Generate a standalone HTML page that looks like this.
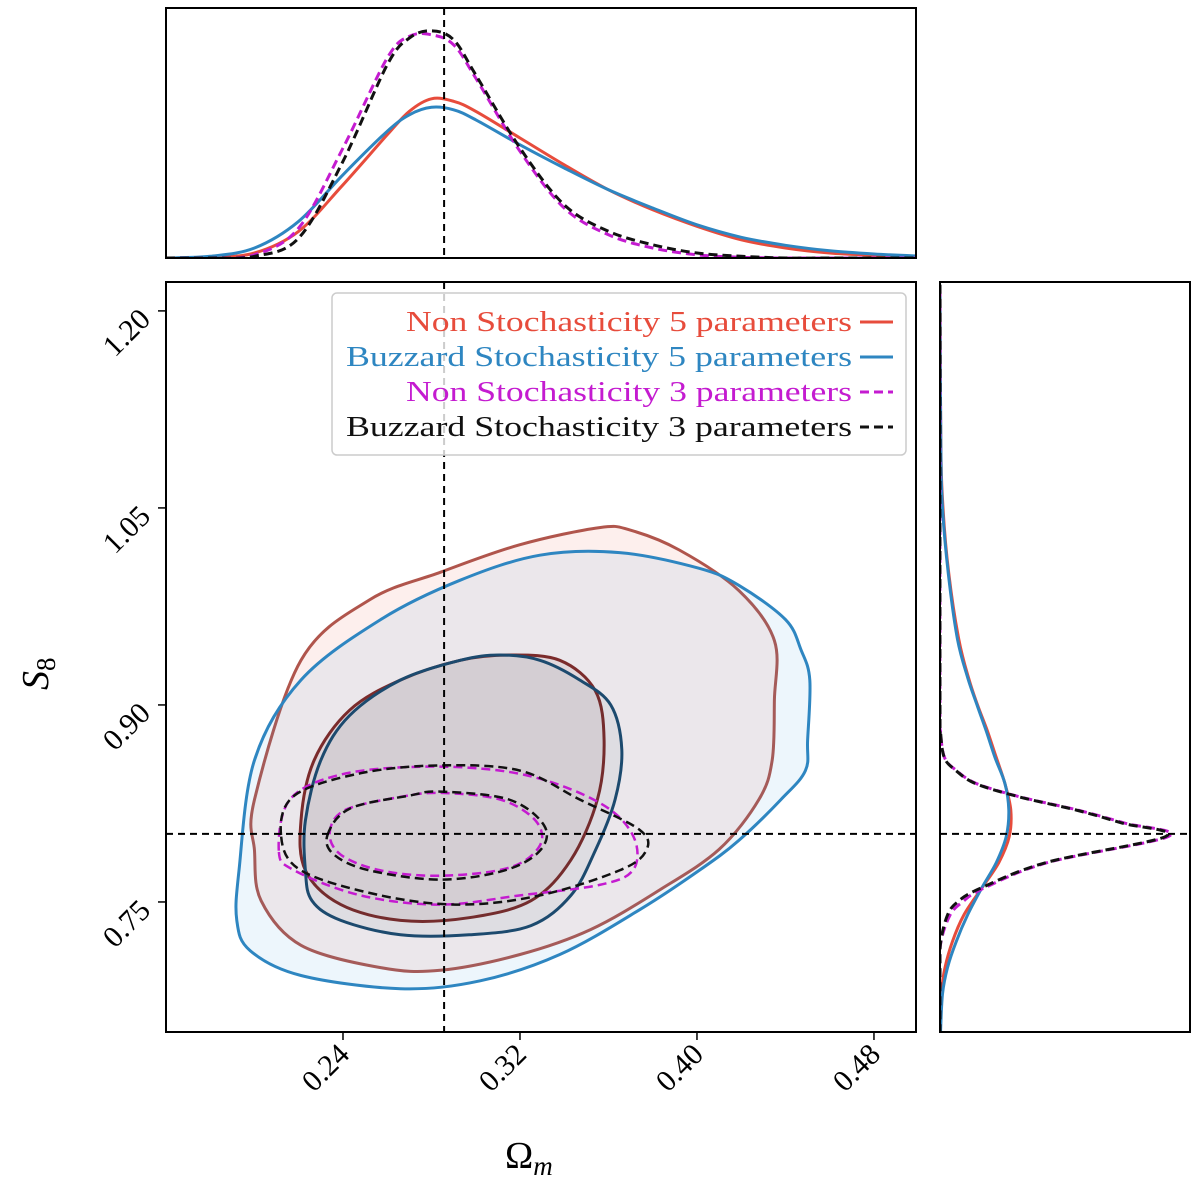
<!DOCTYPE html>
<html><head><meta charset="utf-8">
<style>
html,body{margin:0;padding:0;background:#fff;}
svg{display:block;font-family:"Liberation Serif",serif;}
</style></head>
<body>
<svg id="chart" width="1200" height="1181" viewBox="0 0 1200 1181"></svg>
<script>
// ---------- DATA ----------
const xTicks=[0.24,0.32,0.40,0.48];
const yTicks=[1.20,1.05,0.90,0.75];
const truthOm=0.2857, truthS8=0.8018;
const redOuter=[[0.200,0.828],[0.221,0.934],[0.252,0.980],[0.284,1.001],[0.320,1.022],[0.356,1.035],[0.370,1.033],[0.392,1.018],[0.419,0.987],[0.435,0.949],[0.435,0.904],[0.434,0.858],[0.428,0.828],[0.410,0.790],[0.383,0.759],[0.352,0.729],[0.320,0.710],[0.284,0.698],[0.257,0.700],[0.221,0.717],[0.203,0.751],[0.200,0.789]];
const blueOuter=[[0.193,0.774],[0.192,0.736],[0.198,0.713],[0.221,0.694],[0.266,0.684],[0.302,0.690],[0.338,0.710],[0.374,0.744],[0.401,0.774],[0.419,0.797],[0.438,0.828],[0.449,0.850],[0.450,0.873],[0.451,0.919],[0.447,0.942],[0.440,0.965],[0.419,0.991],[0.401,1.004],[0.365,1.016],[0.329,1.014],[0.293,0.995],[0.257,0.965],[0.221,0.919],[0.200,0.858]];
const redInner=[[0.223,0.774],[0.221,0.812],[0.227,0.858],[0.243,0.896],[0.266,0.919],[0.293,0.934],[0.315,0.938],[0.338,0.934],[0.354,0.911],[0.358,0.873],[0.355,0.828],[0.343,0.782],[0.325,0.751],[0.297,0.738],[0.266,0.736],[0.239,0.748]];
const blueInner=[[0.223,0.774],[0.223,0.812],[0.230,0.858],[0.243,0.892],[0.266,0.919],[0.293,0.934],[0.311,0.938],[0.329,0.934],[0.347,0.919],[0.361,0.900],[0.366,0.866],[0.363,0.828],[0.354,0.789],[0.343,0.755],[0.325,0.732],[0.297,0.725],[0.266,0.725],[0.239,0.736],[0.226,0.751]];
const magOuter=[[0.211,0.789],[0.216,0.828],[0.239,0.847],[0.275,0.853],[0.311,0.850],[0.338,0.839],[0.361,0.820],[0.372,0.797],[0.371,0.774],[0.356,0.763],[0.320,0.755],[0.284,0.748],[0.248,0.755],[0.218,0.774]];
const blkOuter=[[0.212,0.801],[0.218,0.831],[0.248,0.848],[0.284,0.854],[0.320,0.850],[0.347,0.828],[0.374,0.805],[0.377,0.789],[0.365,0.774],[0.329,0.755],[0.293,0.748],[0.257,0.755],[0.221,0.774]];
const magInner=[[0.234,0.803],[0.241,0.820],[0.266,0.830],[0.284,0.833],[0.311,0.828],[0.327,0.812],[0.329,0.793],[0.315,0.776],[0.284,0.770],[0.257,0.774],[0.239,0.786]];
const blkInner=[[0.233,0.801],[0.243,0.821],[0.270,0.831],[0.284,0.834],[0.315,0.828],[0.331,0.808],[0.329,0.789],[0.313,0.774],[0.284,0.767],[0.252,0.774],[0.236,0.786]];
// top marginal (Omega_m)
const omGrid=[0.16,0.18,0.20,0.22,0.24,0.26,0.27,0.28,0.29,0.30,0.32,0.34,0.36,0.38,0.40,0.42,0.44,0.46,0.48,0.50];
const omRed=[0,0.003,0.02,0.107,0.293,0.493,0.587,0.637,0.627,0.587,0.48,0.373,0.273,0.193,0.127,0.073,0.04,0.02,0.011,0.005];
const omBlue=[0,0.007,0.04,0.147,0.333,0.507,0.573,0.603,0.593,0.553,0.453,0.36,0.273,0.2,0.133,0.083,0.051,0.029,0.016,0.008];
const omBlk=[0,0,0.007,0.08,0.387,0.773,0.88,0.909,0.873,0.733,0.44,0.213,0.107,0.053,0.02,0.007,0,0,0,0];
const omMag=[0,0,0.013,0.12,0.44,0.8,0.887,0.893,0.853,0.72,0.427,0.2,0.093,0.04,0.013,0.003,0,0,0,0];
// right marginal (S8)
const s8Grid=[0.65,0.68,0.70,0.72,0.74,0.76,0.78,0.80,0.82,0.84,0.86,0.88,0.90,0.92,0.95,1.00,1.05,1.10,1.22];
const s8Red=[0,0.005,0.02,0.05,0.095,0.165,0.235,0.277,0.283,0.26,0.225,0.19,0.15,0.115,0.075,0.035,0.012,0.003,0];
const s8Blue=[0.002,0.01,0.03,0.065,0.11,0.165,0.225,0.265,0.275,0.26,0.22,0.185,0.148,0.112,0.07,0.033,0.01,0.003,0];
const s8Grid2=[0.65,0.70,0.72,0.74,0.75,0.76,0.78,0.80,0.81,0.82,0.83,0.84,0.85,0.86,0.88,0.90,1.22];
const s8Blk=[0,0,0.003,0.03,0.07,0.157,0.424,0.904,0.73,0.544,0.317,0.144,0.064,0.017,0.002,0,0];
const s8Mag=[0,0,0.004,0.04,0.09,0.17,0.43,0.915,0.74,0.55,0.32,0.148,0.066,0.018,0.002,0,0];

// ---------- SCALES ----------
const M={x0:166,x1:916,y0:282,y1:1032};
const T={y0:8,y1:258}, R={x0:940,x1:1190};
const om0=0.16, om1=0.499, s0=0.651, s1=1.222;
const X=v=>M.x0+(v-om0)/(om1-om0)*(M.x1-M.x0);
const Y=v=>M.y1-(v-s0)/(s1-s0)*(M.y1-M.y0);
const TY=d=>T.y1-d*250;
const RX=d=>R.x0+d*250;
const NS='http://www.w3.org/2000/svg';
const svg=document.getElementById('chart');
function mk(tag,attrs,parent){const e=document.createElementNS(NS,tag);for(const k in attrs)e.setAttribute(k,attrs[k]);(parent||svg).appendChild(e);return e;}
function smooth(pts,closed){
  const n=pts.length;let d='M'+pts[0][0].toFixed(1)+','+pts[0][1].toFixed(1);
  const get=i=>closed?pts[(i+n)%n]:pts[Math.max(0,Math.min(n-1,i))];
  const m=closed?n:n-1;
  for(let i=0;i<m;i++){const p0=get(i-1),p1=get(i),p2=get(i+1),p3=get(i+2);
    const c1=[p1[0]+(p2[0]-p0[0])/6,p1[1]+(p2[1]-p0[1])/6],c2=[p2[0]-(p3[0]-p1[0])/6,p2[1]-(p3[1]-p1[1])/6];
    d+=`C${c1[0].toFixed(1)},${c1[1].toFixed(1)} ${c2[0].toFixed(1)},${c2[1].toFixed(1)} ${p2[0].toFixed(1)},${p2[1].toFixed(1)}`;}
  return d+(closed?'Z':'');}
const defs=mk('defs',{});
const clip=mk('clipPath',{id:'cm'},defs);mk('rect',{x:M.x0,y:M.y0,width:750,height:750},clip);

// ---------- MAIN PANEL ----------
const g=mk('g',{'clip-path':'url(#cm)'});


function contour(arr,fill,stroke,w,dash,name){
  const p=mk('path',{d:smooth(arr.map(a=>[X(a[0]),Y(a[1])]),true),fill:fill,stroke:stroke,'stroke-width':w},g);
  if(dash)p.setAttribute('stroke-dasharray',dash);
  
  }
contour(redOuter,'rgba(231,76,60,0.09)','#b0554c',3,null,'red-95-contour');
contour(blueOuter,'rgba(52,152,219,0.09)','#2e86c1',3,null,'blue-95-contour');
contour(redInner,'rgba(110,40,40,0.08)','#7b2b2b',3,null,'red-68-contour');
contour(blueInner,'rgba(20,60,90,0.06)','#1c4a6e',3,null,'blue-68-contour');
contour(magOuter,'none','#c41bd0',2.5,'9,5','magenta-95-contour');
contour(blkOuter,'none','#111',2.5,'9,5','black-95-contour');
contour(magInner,'none','#c41bd0',2.5,'9,5','magenta-68-contour');
contour(blkInner,'none','#111',2.5,'9,5','black-68-contour');
let l=mk('line',{x1:X(truthOm),x2:X(truthOm),y1:M.y0,y2:M.y1,stroke:'#000','stroke-width':2,'stroke-dasharray':'7,5'});

l=mk('line',{x1:M.x0,x2:M.x1,y1:Y(truthS8),y2:Y(truthS8),stroke:'#000','stroke-width':2,'stroke-dasharray':'7,5'});

let fr=mk('rect',{x:M.x0,y:M.y0,width:750,height:750,fill:'none',stroke:'#000','stroke-width':2});


xTicks.forEach(v=>{const x=X(v);mk('line',{x1:x,x2:x,y1:M.y1,y2:M.y1+8,stroke:'#000','stroke-width':1.5});
  const t=mk('text',{x:x+8,y:M.y1+24,'font-size':30,'text-anchor':'end',transform:`rotate(-45 ${x+8} ${M.y1+24})`});t.textContent=v.toFixed(2);
  });
yTicks.forEach(v=>{const y=Y(v);mk('line',{x1:M.x0-8,x2:M.x0,y1:y,y2:y,stroke:'#000','stroke-width':1.5});
  const t=mk('text',{x:M.x0-14,y:y+10,'font-size':30,'text-anchor':'end',transform:`rotate(-45 ${M.x0-14} ${y+10})`});t.textContent=v.toFixed(2);
  });
let t=mk('text',{x:505,y:1168,'font-size':38});t.innerHTML='Ω<tspan font-size="27" dy="7" font-style="italic">m</tspan>';

t=mk('text',{x:48,y:690,'font-size':38,'font-style':'italic',transform:'rotate(-90 48 690)'});t.innerHTML='S<tspan font-size="27" dy="7" font-style="normal">8</tspan>';


// legend
const lg=mk('g',{});

mk('rect',{x:332,y:293,width:574,height:162,rx:5,fill:'rgba(255,255,255,0.8)',stroke:'#ccc','stroke-width':1.5},lg);
const legLabels=['Non Stochasticity 5 parameters','Buzzard Stochasticity 5 parameters','Non Stochasticity 3 parameters','Buzzard Stochasticity 3 parameters'];
const legColors=['#e74c3c','#2e86c1','#c41bd0','#111'];
const legDash=[null,null,'9,5','9,5'];
legLabels.forEach((s,i)=>{const y=322+i*35;
  const tt=mk('text',{x:852,y:y+9,'font-size':28,'text-anchor':'end',fill:legColors[i],textLength:[446,506,446,506][i],lengthAdjust:'spacingAndGlyphs'},lg);tt.textContent=s;
  
  const ll=mk('line',{x1:860,x2:893,y1:y,y2:y,stroke:legColors[i],'stroke-width':3},lg);if(legDash[i])ll.setAttribute('stroke-dasharray',legDash[i]);});

// ---------- TOP MARGINAL ----------
const ct=mk('clipPath',{id:'ct'},defs);mk('rect',{x:M.x0,y:T.y0,width:750,height:250},ct);
const tg=mk('g',{'clip-path':'url(#ct)'});
function topCurveG(vals,col,dash,name){const p=mk('path',{d:smooth(omGrid.map((o,i)=>[X(o),TY(vals[i])]),false),fill:'none',stroke:col,'stroke-width':3},tg);
  if(dash)p.setAttribute('stroke-dasharray',dash);}
topCurveG(omRed,'#e74c3c',null,'omega-marginal-red');
topCurveG(omBlue,'#2e86c1',null,'omega-marginal-blue');
topCurveG(omMag,'#c41bd0','9,5','omega-marginal-magenta');
topCurveG(omBlk,'#111','9,5','omega-marginal-black');
mk('line',{x1:X(truthOm),x2:X(truthOm),y1:T.y0,y2:T.y1,stroke:'#000','stroke-width':2,'stroke-dasharray':'7,5'});
fr=mk('rect',{x:M.x0,y:T.y0,width:750,height:250,fill:'none',stroke:'#000','stroke-width':2});


// ---------- RIGHT MARGINAL ----------
const cr=mk('clipPath',{id:'cr'},defs);mk('rect',{x:R.x0,y:M.y0,width:250,height:750},cr);
const rg=mk('g',{'clip-path':'url(#cr)'});
function rCurve(grid,vals,col,dash,name){const p=mk('path',{d:smooth(grid.map((s,i)=>[RX(vals[i]),Y(s)]),false),fill:'none',stroke:col,'stroke-width':3},rg);
  if(dash)p.setAttribute('stroke-dasharray',dash);}
rCurve(s8Grid,s8Red,'#e74c3c',null,'s8-marginal-red');
rCurve(s8Grid,s8Blue,'#2e86c1',null,'s8-marginal-blue');
rCurve(s8Grid2,s8Mag,'#c41bd0','9,5','s8-marginal-magenta');
rCurve(s8Grid2,s8Blk,'#111','9,5','s8-marginal-black');
mk('line',{x1:R.x0,x2:R.x1,y1:Y(truthS8),y2:Y(truthS8),stroke:'#000','stroke-width':2,'stroke-dasharray':'7,5'});
fr=mk('rect',{x:R.x0,y:M.y0,width:250,height:750,fill:'none',stroke:'#000','stroke-width':2});

</script>
</body></html>
